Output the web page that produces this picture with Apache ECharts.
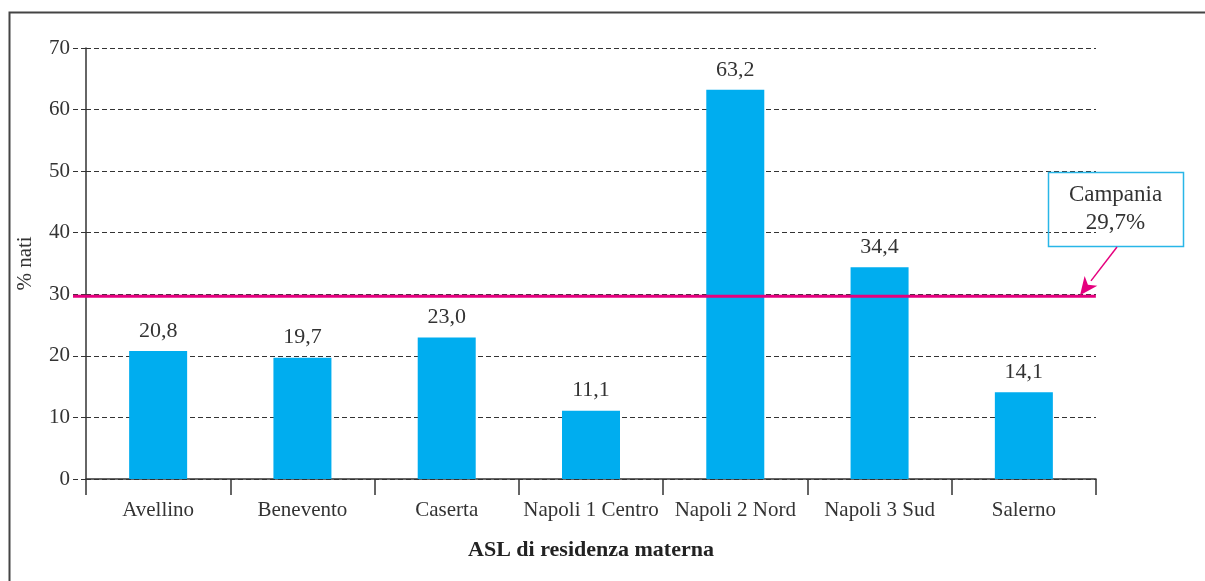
<!DOCTYPE html>
<html>
<head>
<meta charset="utf-8">
<script src="https://cdn.jsdelivr.net/npm/echarts@6/dist/echarts.min.js"></script>
<style>
  html, body { margin: 0; padding: 0; background: #fff; }
  #chart { width: 1205px; height: 581px; }
</style>
</head>
<body>
<div id="chart"></div>
<script>
// ASL of maternal residence and share of births (%)
const categories = ['Avellino', 'Benevento', 'Caserta', 'Napoli 1 Centro', 'Napoli 2 Nord', 'Napoli 3 Sud', 'Salerno'];
const values = [20.8, 19.7, 23.0, 11.1, 63.2, 34.4, 14.1];
const regionalValue = 29.7;
const regionalName = 'Campania';
const yTicks = [0, 10, 20, 30, 40, 50, 60, 70];

const FONT = '"Liberation Serif", "DejaVu Serif", serif';
const fmt = v => v.toFixed(1).replace('.', ',');

const chart = echarts.init(document.getElementById('chart'), null, { renderer: 'canvas' });

chart.setOption({
  animation: false,
  backgroundColor: '#fff',
  grid: { left: 86, right: 109, top: 48, bottom: 102, containLabel: false },
  xAxis: {
    type: 'category',
    data: categories,
    name: 'ASL di residenza materna',
    nameLocation: 'middle',
    nameGap: 60,
    nameTextStyle: { fontFamily: FONT, fontSize: 22, fontWeight: 'bold', color: '#222' },
    axisLine: { lineStyle: { color: '#333', width: 1.5 } },
    axisTick: { show: true, length: 16, lineStyle: { color: '#333', width: 1.5 } },
    axisLabel: { fontFamily: FONT, fontSize: 21, color: '#333', margin: 21, interval: 0 }
  },
  yAxis: {
    type: 'value',
    min: yTicks[0],
    max: yTicks[yTicks.length - 1],
    interval: 10,
    name: '% nati',
    nameLocation: 'middle',
    nameGap: 50,
    nameTextStyle: { fontFamily: FONT, fontSize: 21, color: '#333' },
    axisLine: { show: true, lineStyle: { color: '#333', width: 1.5 } },
    axisTick: { show: true, length: 13, lineStyle: { color: '#333', width: 1.2, type: [5, 3] } },
    axisLabel: { fontFamily: FONT, fontSize: 21, color: '#333', margin: 16 },
    splitLine: { show: true, lineStyle: { color: '#333', width: 1.2, type: [5, 3] } }
  },
  series: [{
    type: 'bar',
    data: values,
    barWidth: 58,
    itemStyle: { color: '#00adef' },
    label: {
      show: true,
      position: 'top',
      distance: 9,
      fontFamily: FONT,
      fontSize: 22,
      color: '#333',
      formatter: p => fmt(p.value)
    }
  }]
});

// Regional reference line (spans the tick area too) with a callout box and arrow
const lineY = chart.convertToPixel({ yAxisIndex: 0 }, regionalValue);
const gridRight = chart.convertToPixel({ xAxisIndex: 0 }, categories.length - 1) + 72;
const box = { x: 1048, y: 172, w: 135, h: 74 };
const tip = [1080, lineY - 1];
const tail = [box.x + 69, box.y + box.h + 1];
const ang = Math.atan2(tip[1] - tail[1], tip[0] - tail[0]);
const hl = 18, hw = 8;
const bx = tip[0] - hl * Math.cos(ang), by = tip[1] - hl * Math.sin(ang);
const px = -Math.sin(ang) * hw, py = Math.cos(ang) * hw;

chart.setOption({
  graphic: [
    {
      type: 'rect', silent: true, z: 100,
      shape: { x: 9.5, y: 12.5, width: 1300, height: 700 },
      style: { fill: 'none', stroke: '#444', lineWidth: 2 }
    },
    {
      type: 'line', silent: true, z: 100,
      shape: { x1: 73, y1: lineY, x2: gridRight, y2: lineY },
      style: { stroke: '#e5007e', lineWidth: 3 }
    },
    {
      type: 'rect', silent: true, z: 100,
      shape: { x: box.x + 0.5, y: box.y + 0.5, width: box.w, height: box.h },
      style: { fill: 'none', stroke: '#29b6e8', lineWidth: 1.5 }
    },
    {
      type: 'text', silent: true, z: 101,
      x: box.x + box.w / 2, y: box.y + box.h / 2,
      style: {
        text: regionalName + '\n' + fmt(regionalValue) + '%',
        font: '23px ' + FONT,
        fill: '#333',
        align: 'center',
        verticalAlign: 'middle',
        lineHeight: 28
      }
    },
    {
      type: 'line', silent: true, z: 101,
      shape: { x1: tail[0], y1: tail[1], x2: bx, y2: by },
      style: { stroke: '#e5007e', lineWidth: 1.5 }
    },
    {
      type: 'polygon', silent: true, z: 101,
      shape: { points: [tip, [bx + px, by + py], [tip[0] - (hl - 5) * Math.cos(ang), tip[1] - (hl - 5) * Math.sin(ang)], [bx - px, by - py]] },
      style: { fill: '#e5007e' }
    }
  ]
});
</script>
</body>
</html>
